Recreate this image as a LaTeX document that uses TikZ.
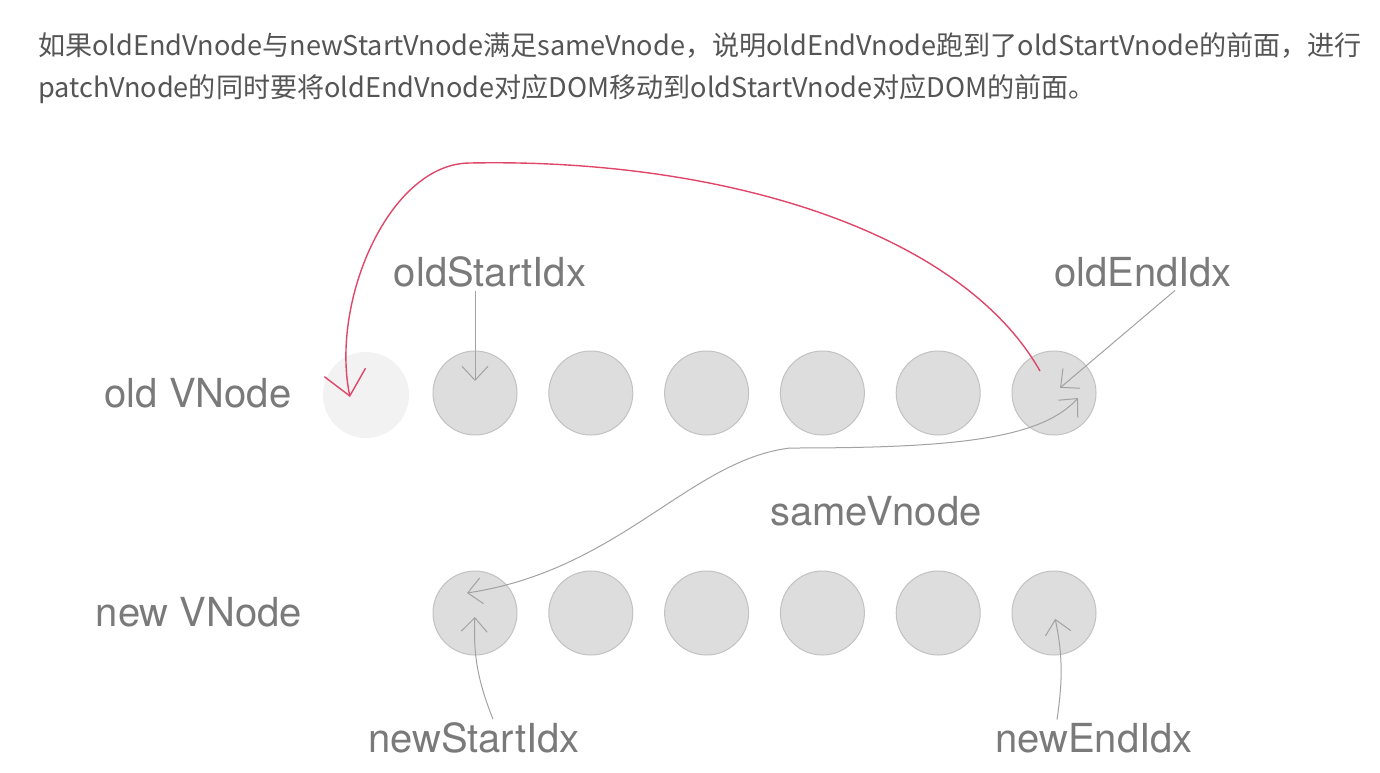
\documentclass[tikz,border=0pt]{standalone}
\usepackage{fontspec}
\setmainfont{TeX Gyre Heros}
\newfontfamily\cjk{Noto Sans CJK SC}
\usetikzlibrary{arrows.meta,positioning,calc}
\definecolor{notegray}{RGB}{85,85,85}
\definecolor{labelgray}{RGB}{122,122,122}
\definecolor{ballfill}{RGB}{221,221,221}
\definecolor{balledge}{RGB}{194,194,194}
\definecolor{movered}{RGB}{224,70,105}
\tikzstyle{vnode}=[circle,minimum size=84pt,inner sep=0pt,fill=ballfill,draw=balledge,line width=1pt]
\tikzstyle{ghostnode}=[circle,minimum size=86pt,inner sep=0pt,fill=black!5]
\tikzstyle{idxlabel}=[text=labelgray,font=\fontsize{40}{40}\selectfont]
\tikzstyle{notetext}=[anchor=base west,inner sep=0pt,text=notegray,font=\cjk\fontsize{27.1}{27.1}\selectfont]
\tikzstyle{pointer}=[draw=labelgray!70,line width=1pt,-{Straight Barb[length=14pt,width=26pt]}]
\tikzstyle{moveline}=[draw=movered,line width=1.4pt,-{Straight Barb[length=24pt,width=42pt]}]

\begin{document}
\begin{tikzpicture}[x=1pt,y=-1pt]
\useasboundingbox (0,0) rectangle (1380,772);
% explanation above the diagram
\node[notetext] (line1) at (38,55) {如果oldEndVnode与newStartVnode满足sameVnode，说明oldEndVnode跑到了oldStartVnode的前面，进行};
\node[notetext] (line2) at (38,97) {patchVnode的同时要将oldEndVnode对应DOM移动到oldStartVnode对应DOM的前面。};

% the two rows
\node[idxlabel] (oldrow) at (198,393) {old VNode};
\node[idxlabel] (newrow) at (199,612) {new VNode};
\node[ghostnode] (old0) at (366,395) {};
\foreach \i in {1,...,6} {
  \node[vnode] (old\i) at ({475+115.8*(\i-1)},393) {};
  \node[vnode] (new\i) at ({475+115.8*(\i-1)},613) {};
}

% index labels
\node[idxlabel] (oldStart) at (490,272) {oldStartIdx};
\node[idxlabel] (oldEnd) at (1143,272) {oldEndIdx};
\node[idxlabel] (same) at (876,511) {sameVnode};
\node[idxlabel] (newStart) at (474,738) {newStartIdx};
\node[idxlabel] (newEnd) at (1094,738) {newEndIdx};

\draw[pointer,shorten >=12pt] (oldStart.south -| old1.center) -- (old1.center);
\draw[pointer,shorten >=8pt] ([xshift=32pt]oldEnd.south) -- (old6.center);
\draw[pointer,shorten >=4pt] ([xshift=19pt]newStart.north) to[bend left=12] (new1.center);
\draw[pointer,shorten >=6pt] ([xshift=-37pt]newEnd.north) to[bend right=10] (new6.center);
% sameVnode between new start and old end
\draw[pointer,{Straight Barb[length=14pt,width=26pt]}-{Straight Barb[length=14pt,width=26pt]}]
  ($(new1.center)+(-8,-20)$) .. controls (620,570) and (690,460) .. (790,448)
  .. controls (950,448) and (1040,440) .. ($(old6.center)+(24,5)$);

% move old end in front of old start
\draw[moveline] ($(old6.center)+(-14,-22)$) .. controls (960,230) and (720,158) .. (470,163)
  .. controls (390,163) and (330,300) .. ($(old0.center)+(-16,2)$);
\end{tikzpicture}
\end{document}
